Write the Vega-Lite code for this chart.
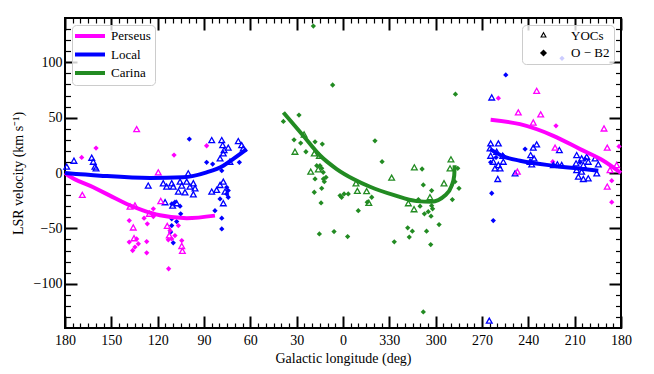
{
  "$schema": "https://vega.github.io/schema/vega-lite/v6.json",
  "width": 556,
  "height": 310,
  "autosize": {"type": "none"},
  "padding": {"left": 65, "top": 18, "right": 33, "bottom": 46},
  "config": {
    "font": "Liberation Serif",
    "view": {"stroke": "black", "strokeWidth": 2},
    "axis": {"grid": false, "domain": false, "labelFont": "Liberation Serif", "labelFontSize": 14, "labelColor": "black", "titleFont": "Liberation Serif", "titleFontSize": 14, "titleFontWeight": "normal", "titleColor": "black", "tickColor": "black", "labelFlush": false, "labelOverlap": false},
    "legend": {"labelFont": "Liberation Serif", "labelFontSize": 13, "labelColor": "black", "fillColor": "rgba(255,255,255,0.8)", "strokeColor": "#cccccc", "cornerRadius": 4, "strokeWidth": 1, "padding": 4, "offset": 7, "rowPadding": 3.7, "title": null}
  },
  "datasets": {
    "yocs": [
      {"arm":"Local","type":"YOCs","l":178.9,"v":5.1},{"arm":"Local","type":"YOCs","l":174.2,"v":10.5},{"arm":"Local","type":"YOCs","l":162.7,"v":13.2},{"arm":"Local","type":"YOCs","l":161.7,"v":9.6},{"arm":"Local","type":"YOCs","l":160.6,"v":5.1},{"arm":"Local","type":"YOCs","l":159.9,"v":3.6},{"arm":"Local","type":"YOCs","l":126.1,"v":-12.0},{"arm":"Local","type":"YOCs","l":116.4,"v":-9.9},{"arm":"Local","type":"YOCs","l":114.2,"v":-12.9},{"arm":"Local","type":"YOCs","l":110.9,"v":-9.9},{"arm":"Local","type":"YOCs","l":109.9,"v":-12.9},{"arm":"Local","type":"YOCs","l":105.5,"v":-8.4},{"arm":"Local","type":"YOCs","l":104.4,"v":-12.0},{"arm":"Local","type":"YOCs","l":101.2,"v":-8.4},{"arm":"Local","type":"YOCs","l":99.1,"v":-12.9},{"arm":"Local","type":"YOCs","l":96.9,"v":-9.9},{"arm":"Local","type":"YOCs","l":95.8,"v":-14.4},{"arm":"Local","type":"YOCs","l":96.9,"v":-19.8},{"arm":"Local","type":"YOCs","l":106.6,"v":-17.4},{"arm":"Local","type":"YOCs","l":102.3,"v":-18.0},{"arm":"Local","type":"YOCs","l":115.2,"v":-27.0},{"arm":"Local","type":"YOCs","l":110.3,"v":-30.0},{"arm":"Local","type":"YOCs","l":107.7,"v":-27.9},{"arm":"Local","type":"YOCs","l":100.2,"v":-0.9},{"arm":"Local","type":"YOCs","l":85.0,"v":-17.4},{"arm":"Local","type":"YOCs","l":81.8,"v":-15.9},{"arm":"Local","type":"YOCs","l":79.6,"v":-11.4},{"arm":"Local","type":"YOCs","l":77.5,"v":-8.4},{"arm":"Local","type":"YOCs","l":76.4,"v":-17.4},{"arm":"Local","type":"YOCs","l":77.5,"v":-27.9},{"arm":"Local","type":"YOCs","l":85.0,"v":29.1},{"arm":"Local","type":"YOCs","l":78.5,"v":29.1},{"arm":"Local","type":"YOCs","l":77.9,"v":24.6},{"arm":"Local","type":"YOCs","l":77.0,"v":20.1},{"arm":"Local","type":"YOCs","l":74.3,"v":22.3},{"arm":"Local","type":"YOCs","l":67.8,"v":28.2},{"arm":"Local","type":"YOCs","l":65.6,"v":24.6},{"arm":"Local","type":"YOCs","l":64.6,"v":21.6},{"arm":"Local","type":"YOCs","l":79.6,"v":12.6},{"arm":"Local","type":"YOCs","l":77.5,"v":17.1},{"arm":"Local","type":"YOCs","l":73.2,"v":9.6},
      {"arm":"Local","type":"YOCs","l":-96.3,"v":67.6},{"arm":"Local","type":"YOCs","l":-95.6,"v":26.1},{"arm":"Local","type":"YOCs","l":-100.6,"v":26.1},{"arm":"Local","type":"YOCs","l":-95.2,"v":21.6},{"arm":"Local","type":"YOCs","l":-99.5,"v":18.6},{"arm":"Local","type":"YOCs","l":-95.6,"v":15.0},{"arm":"Local","type":"YOCs","l":-103.4,"v":15.0},{"arm":"Local","type":"YOCs","l":-97.3,"v":9.6},{"arm":"Local","type":"YOCs","l":-100.6,"v":6.6},{"arm":"Local","type":"YOCs","l":-103.8,"v":9.6},{"arm":"Local","type":"YOCs","l":-98.4,"v":3.6},{"arm":"Local","type":"YOCs","l":-101.7,"v":3.6},{"arm":"Local","type":"YOCs","l":-100.2,"v":-6.0},{"arm":"Local","type":"YOCs","l":-111.4,"v":-0.9},{"arm":"Local","type":"YOCs","l":-123.2,"v":22.3},{"arm":"Local","type":"YOCs","l":-125.4,"v":25.2},{"arm":"Local","type":"YOCs","l":-121.5,"v":15.6},{"arm":"Local","type":"YOCs","l":-123.7,"v":12.6},{"arm":"Local","type":"YOCs","l":-121.1,"v":9.6},{"arm":"Local","type":"YOCs","l":-122.2,"v":7.2},{"arm":"Local","type":"YOCs","l":-140.1,"v":20.1},{"arm":"Local","type":"YOCs","l":-136.2,"v":6.6},{"arm":"Local","type":"YOCs","l":-138.8,"v":7.2},{"arm":"Local","type":"YOCs","l":-141.6,"v":6.6},{"arm":"Local","type":"YOCs","l":-151.3,"v":15.6},{"arm":"Local","type":"YOCs","l":-154.5,"v":12.6},{"arm":"Local","type":"YOCs","l":-157.8,"v":14.1},{"arm":"Local","type":"YOCs","l":-150.9,"v":8.1},{"arm":"Local","type":"YOCs","l":-155.6,"v":6.6},{"arm":"Local","type":"YOCs","l":-158.8,"v":9.6},{"arm":"Local","type":"YOCs","l":-163.2,"v":12.6},{"arm":"Local","type":"YOCs","l":-165.3,"v":7.2},{"arm":"Local","type":"YOCs","l":-151.3,"v":2.1},{"arm":"Local","type":"YOCs","l":-164.3,"v":-0.9},{"arm":"Local","type":"YOCs","l":-152.4,"v":-3.9},{"arm":"Local","type":"YOCs","l":-155.6,"v":-6.0},{"arm":"Local","type":"YOCs","l":-158.8,"v":-5.4},{"arm":"Local","type":"YOCs","l":-154.5,"v":0.6},{"arm":"Local","type":"YOCs","l":-94.7,"v":-134.0},
      {"arm":"Perseus","type":"YOCs","l":133.6,"v":39.0},{"arm":"Perseus","type":"YOCs","l":168.8,"v":-20.4},{"arm":"Perseus","type":"YOCs","l":119.6,"v":0.0},{"arm":"Perseus","type":"YOCs","l":118.0,"v":-25.9},{"arm":"Perseus","type":"YOCs","l":137.9,"v":-30.9},{"arm":"Perseus","type":"YOCs","l":134.7,"v":-30.0},{"arm":"Perseus","type":"YOCs","l":125.4,"v":-37.4},{"arm":"Perseus","type":"YOCs","l":135.8,"v":-49.8},{"arm":"Perseus","type":"YOCs","l":135.3,"v":-59.5},{"arm":"Perseus","type":"YOCs","l":113.8,"v":-48.4},{"arm":"Perseus","type":"YOCs","l":112.5,"v":-57.0},{"arm":"Perseus","type":"YOCs","l":104.4,"v":-66.5},{"arm":"Perseus","type":"YOCs","l":104.0,"v":-71.0},{"arm":"Perseus","type":"YOCs","l":-125.4,"v":73.6},{"arm":"Perseus","type":"YOCs","l":-113.5,"v":54.1},{"arm":"Perseus","type":"YOCs","l":-128.0,"v":52.3},{"arm":"Perseus","type":"YOCs","l":-123.2,"v":45.0},{"arm":"Perseus","type":"YOCs","l":-169.0,"v":39.6},{"arm":"Perseus","type":"YOCs","l":-171.1,"v":22.3},{"arm":"Perseus","type":"YOCs","l":-137.3,"v":22.3},{"arm":"Perseus","type":"YOCs","l":-112.9,"v":0.6},{"arm":"Perseus","type":"YOCs","l":-172.9,"v":2.1},{"arm":"Perseus","type":"YOCs","l":-177.2,"v":6.6},{"arm":"Perseus","type":"YOCs","l":-171.1,"v":-12.9},
      {"arm":"Carina","type":"YOCs","l":25.2,"v":34.2},{"arm":"Carina","type":"YOCs","l":31.1,"v":18.6},{"arm":"Carina","type":"YOCs","l":18.6,"v":17.1},{"arm":"Carina","type":"YOCs","l":15.3,"v":15.0},{"arm":"Carina","type":"YOCs","l":20.9,"v":0.6},{"arm":"Carina","type":"YOCs","l":16.0,"v":2.7},{"arm":"Carina","type":"YOCs","l":-8.4,"v":-9.9},{"arm":"Carina","type":"YOCs","l":-9.3,"v":-16.8},{"arm":"Carina","type":"YOCs","l":-15.3,"v":-17.0},{"arm":"Carina","type":"YOCs","l":-16.7,"v":-27.5},{"arm":"Carina","type":"YOCs","l":-31.5,"v":-4.8},{"arm":"Carina","type":"YOCs","l":-46.2,"v":4.5},{"arm":"Carina","type":"YOCs","l":-65.4,"v":-9.9},{"arm":"Carina","type":"YOCs","l":-69.9,"v":11.7},{"arm":"Carina","type":"YOCs","l":-69.3,"v":3.6},{"arm":"Carina","type":"YOCs","l":-42.3,"v":-27.9},{"arm":"Carina","type":"YOCs","l":-46.0,"v":-33.3},{"arm":"Carina","type":"YOCs","l":-56.3,"v":-22.5}
    ],
    "obs": [
      {"arm":"Local","type":"O − B2","l":99.5,"v":30.6},{"arm":"Local","type":"O − B2","l":88.3,"v":9.6},{"arm":"Local","type":"O − B2","l":84.4,"v":8.1},{"arm":"Local","type":"O − B2","l":67.1,"v":9.6},{"arm":"Local","type":"O − B2","l":78.5,"v":2.1},{"arm":"Local","type":"O − B2","l":75.3,"v":-12.9},{"arm":"Local","type":"O − B2","l":74.3,"v":-15.9},{"arm":"Local","type":"O − B2","l":75.3,"v":-18.9},{"arm":"Local","type":"O − B2","l":74.3,"v":-21.9},{"arm":"Local","type":"O − B2","l":79.6,"v":-23.4},{"arm":"Local","type":"O − B2","l":82.9,"v":-34.0},{"arm":"Local","type":"O − B2","l":78.5,"v":-40.8},{"arm":"Local","type":"O − B2","l":78.5,"v":-50.5},{"arm":"Local","type":"O − B2","l":110.9,"v":-27.9},{"arm":"Local","type":"O − B2","l":108.8,"v":-26.4},{"arm":"Local","type":"O − B2","l":105.5,"v":-30.0},{"arm":"Local","type":"O − B2","l":105.1,"v":-36.9},{"arm":"Local","type":"O − B2","l":110.9,"v":-41.4},{"arm":"Local","type":"O − B2","l":107.7,"v":-43.9},{"arm":"Local","type":"O − B2","l":110.9,"v":-47.5},{"arm":"Local","type":"O − B2","l":111.6,"v":-53.4},{"arm":"Local","type":"O − B2","l":109.9,"v":-63.1},{"arm":"Local","type":"O − B2","l":-105.4,"v":88.6},{"arm":"Local","type":"O − B2","l":-95.6,"v":9.6},{"arm":"Local","type":"O − B2","l":-99.1,"v":14.1},{"arm":"Local","type":"O − B2","l":-103.8,"v":15.6},{"arm":"Local","type":"O − B2","l":-96.3,"v":-18.3},{"arm":"Local","type":"O − B2","l":-97.3,"v":-43.0},{"arm":"Local","type":"O − B2","l":-117.9,"v":21.6},{"arm":"Local","type":"O − B2","l":-156.7,"v":12.6},{"arm":"Local","type":"O − B2","l":-153.5,"v":9.6},{"arm":"Local","type":"O − B2","l":-141.8,"v":103.6},
      {"arm":"Perseus","type":"O − B2","l":159.9,"v":22.5},{"arm":"Perseus","type":"O − B2","l":169.2,"v":14.1},{"arm":"Perseus","type":"O − B2","l":109.4,"v":16.2},{"arm":"Perseus","type":"O − B2","l":88.3,"v":24.6},{"arm":"Perseus","type":"O − B2","l":122.8,"v":-32.4},{"arm":"Perseus","type":"O − B2","l":128.8,"v":-40.8},{"arm":"Perseus","type":"O − B2","l":126.7,"v":-45.9},{"arm":"Perseus","type":"O − B2","l":138.4,"v":-43.0},{"arm":"Perseus","type":"O − B2","l":138.4,"v":-62.4},{"arm":"Perseus","type":"O − B2","l":133.6,"v":-59.5},{"arm":"Perseus","type":"O − B2","l":134.7,"v":-66.9},{"arm":"Perseus","type":"O − B2","l":136.2,"v":-70.0},{"arm":"Perseus","type":"O − B2","l":132.5,"v":-64.0},{"arm":"Perseus","type":"O − B2","l":127.1,"v":-61.9},{"arm":"Perseus","type":"O − B2","l":127.1,"v":-72.1},{"arm":"Perseus","type":"O − B2","l":122.8,"v":-39.4},{"arm":"Perseus","type":"O − B2","l":113.1,"v":-60.4},{"arm":"Perseus","type":"O − B2","l":110.9,"v":-59.5},{"arm":"Perseus","type":"O − B2","l":112.9,"v":-86.5},{"arm":"Perseus","type":"O − B2","l":106.6,"v":-47.5},{"arm":"Perseus","type":"O − B2","l":104.4,"v":-61.0},{"arm":"Perseus","type":"O − B2","l":108.8,"v":-56.5},{"arm":"Perseus","type":"O − B2","l":112.0,"v":-52.0},{"arm":"Perseus","type":"O − B2","l":-100.6,"v":67.6},{"arm":"Perseus","type":"O − B2","l":-137.9,"v":42.6},{"arm":"Perseus","type":"O − B2","l":-178.7,"v":24.0},{"arm":"Perseus","type":"O − B2","l":-135.8,"v":10.2},{"arm":"Perseus","type":"O − B2","l":-174.0,"v":-6.9},{"arm":"Perseus","type":"O − B2","l":-174.0,"v":-26.4},
      {"arm":"Carina","type":"O − B2","l":19.2,"v":132.7},{"arm":"Carina","type":"O − B2","l":6.7,"v":79.5},{"arm":"Carina","type":"O − B2","l":-72.8,"v":71.2},{"arm":"Carina","type":"O − B2","l":28.5,"v":52.3},{"arm":"Carina","type":"O − B2","l":38.6,"v":46.6},{"arm":"Carina","type":"O − B2","l":31.7,"v":30.0},{"arm":"Carina","type":"O − B2","l":18.1,"v":28.2},{"arm":"Carina","type":"O − B2","l":13.4,"v":26.1},{"arm":"Carina","type":"O − B2","l":27.4,"v":27.0},{"arm":"Carina","type":"O − B2","l":24.0,"v":19.2},{"arm":"Carina","type":"O − B2","l":17.0,"v":6.6},{"arm":"Carina","type":"O − B2","l":14.9,"v":6.6},{"arm":"Carina","type":"O − B2","l":12.7,"v":-5.4},{"arm":"Carina","type":"O − B2","l":11.0,"v":-3.9},{"arm":"Carina","type":"O − B2","l":12.1,"v":-7.8},{"arm":"Carina","type":"O − B2","l":13.8,"v":4.2},{"arm":"Carina","type":"O − B2","l":12.8,"v":0.6},{"arm":"Carina","type":"O − B2","l":18.1,"v":-5.4},{"arm":"Carina","type":"O − B2","l":13.8,"v":-13.8},{"arm":"Carina","type":"O − B2","l":18.6,"v":-17.4},{"arm":"Carina","type":"O − B2","l":14.2,"v":-27.0},{"arm":"Carina","type":"O − B2","l":1.9,"v":-20.4},{"arm":"Carina","type":"O − B2","l":-0.7,"v":-18.9},{"arm":"Carina","type":"O − B2","l":-3.4,"v":-18.9},{"arm":"Carina","type":"O − B2","l":0.9,"v":-21.9},{"arm":"Carina","type":"O − B2","l":-9.9,"v":-34.0},{"arm":"Carina","type":"O − B2","l":15.3,"v":-55.0},{"arm":"Carina","type":"O − B2","l":5.8,"v":-52.9},{"arm":"Carina","type":"O − B2","l":-3.0,"v":-57.4},{"arm":"Carina","type":"O − B2","l":-15.7,"v":-26.4},{"arm":"Carina","type":"O − B2","l":-20.7,"v":29.1},{"arm":"Carina","type":"O − B2","l":-25.3,"v":10.2},{"arm":"Carina","type":"O − B2","l":-51.2,"v":3.6},{"arm":"Carina","type":"O − B2","l":-52.0,"v":-10.8},{"arm":"Carina","type":"O − B2","l":-74.3,"v":4.2},{"arm":"Carina","type":"O − B2","l":-72.5,"v":-7.8},{"arm":"Carina","type":"O − B2","l":-75.1,"v":-13.8},{"arm":"Carina","type":"O − B2","l":-70.8,"v":-24.0},{"arm":"Carina","type":"O − B2","l":-18.6,"v":-21.9},{"arm":"Carina","type":"O − B2","l":-48.8,"v":-24.0},{"arm":"Carina","type":"O − B2","l":-49.9,"v":-30.0},{"arm":"Carina","type":"O − B2","l":-52.7,"v":-36.9},{"arm":"Carina","type":"O − B2","l":-55.2,"v":-34.9},{"arm":"Carina","type":"O − B2","l":-57.0,"v":-39.0},{"arm":"Carina","type":"O − B2","l":-57.4,"v":-15.9},{"arm":"Carina","type":"O − B2","l":-57.4,"v":-29.5},{"arm":"Carina","type":"O − B2","l":-58.0,"v":-32.4},{"arm":"Carina","type":"O − B2","l":-62.2,"v":-46.6},{"arm":"Carina","type":"O − B2","l":-41.9,"v":-49.5},{"arm":"Carina","type":"O − B2","l":-44.9,"v":-52.5},{"arm":"Carina","type":"O − B2","l":-42.9,"v":-57.9},{"arm":"Carina","type":"O − B2","l":-54.1,"v":-52.5},{"arm":"Carina","type":"O − B2","l":-33.2,"v":-62.2},{"arm":"Carina","type":"O − B2","l":-56.8,"v":-64.6},{"arm":"Carina","type":"O − B2","l":-52.0,"v":-125.5}
    ],
    "lines1": [
      {"arm":"Perseus","seg":"P1","i":0,"l":180,"v":0},{"arm":"Perseus","seg":"P1","i":1,"l":178.9,"v":-1.2},{"arm":"Perseus","seg":"P1","i":2,"l":161.7,"v":-12.9},{"arm":"Perseus","seg":"P1","i":3,"l":150.9,"v":-20.4},{"arm":"Perseus","seg":"P1","i":4,"l":140,"v":-28.0},{"arm":"Perseus","seg":"P1","i":5,"l":130,"v":-33.5},{"arm":"Perseus","seg":"P1","i":6,"l":118.5,"v":-38.2},{"arm":"Perseus","seg":"P1","i":7,"l":101.2,"v":-40.8},{"arm":"Perseus","seg":"P1","i":8,"l":82.9,"v":-38.5},
      {"arm":"Perseus","seg":"P2","i":0,"l":-95.6,"v":48.0},{"arm":"Perseus","seg":"P2","i":1,"l":-114.6,"v":44.1},{"arm":"Perseus","seg":"P2","i":2,"l":-136.2,"v":33.6},{"arm":"Perseus","seg":"P2","i":3,"l":-153.5,"v":21.6},{"arm":"Perseus","seg":"P2","i":4,"l":-168.6,"v":11.1},{"arm":"Perseus","seg":"P2","i":5,"l":-180,"v":0},
      {"arm":"Local","seg":"L1","i":0,"l":180,"v":0},{"arm":"Local","seg":"L1","i":1,"l":157.3,"v":-2.4},{"arm":"Local","seg":"L1","i":2,"l":125,"v":-4.5},{"arm":"Local","seg":"L1","i":3,"l":103.6,"v":-3.9},{"arm":"Local","seg":"L1","i":4,"l":88.3,"v":0.6},{"arm":"Local","seg":"L1","i":5,"l":77.5,"v":6.6},{"arm":"Local","seg":"L1","i":6,"l":71.2,"v":12.6},{"arm":"Local","seg":"L1","i":7,"l":62.3,"v":21.6},
      {"arm":"Local","seg":"L2","i":0,"l":-95.2,"v":21.6},{"arm":"Local","seg":"L2","i":1,"l":-103.8,"v":15.0},{"arm":"Local","seg":"L2","i":2,"l":-114.6,"v":11.1},{"arm":"Local","seg":"L2","i":3,"l":-136.2,"v":6.6},{"arm":"Local","seg":"L2","i":4,"l":-151.3,"v":4.2},{"arm":"Local","seg":"L2","i":5,"l":-165.3,"v":2.1}
    ],
    "lines2": [
      {"arm":"Carina","seg":"C1","i":0,"l":38.6,"v":54.7},{"arm":"Carina","seg":"C1","i":1,"l":25.7,"v":33.6},{"arm":"Carina","seg":"C1","i":2,"l":15,"v":16},{"arm":"Carina","seg":"C1","i":3,"l":4.1,"v":3.6},{"arm":"Carina","seg":"C1","i":4,"l":-6.7,"v":-5.4},{"arm":"Carina","seg":"C1","i":5,"l":-17.5,"v":-12.4},{"arm":"Carina","seg":"C1","i":6,"l":-32.6,"v":-19.8},{"arm":"Carina","seg":"C1","i":7,"l":-47.7,"v":-25.4},{"arm":"Carina","seg":"C1","i":8,"l":-57.4,"v":-25.9},{"arm":"Carina","seg":"C1","i":9,"l":-66.0,"v":-20.4},{"arm":"Carina","seg":"C1","i":10,"l":-70.4,"v":-11.4},{"arm":"Carina","seg":"C1","i":11,"l":-72.0,"v":-2.4},{"arm":"Carina","seg":"C1","i":12,"l":-72.3,"v":7.0}
    ]
  },
  "layer": [
    {
      "data": {"name": "obs"},
      "mark": {"type": "point", "filled": true, "opacity": 1, "strokeWidth": 0, "size": 28},
      "encoding": {
        "x": {"field": "l", "type": "quantitative", "scale": {"domain": [-180, 180], "reverse": true, "nice": false, "zero": false},
              "axis": {"orient": "bottom", "offset": -5, "values": [175,170,165,160,155,145,140,135,130,125,115,110,105,100,95,85,80,75,70,65,55,50,45,40,35,25,20,15,10,5,-5,-10,-15,-20,-25,-35,-40,-45,-50,-55,-65,-70,-75,-80,-85,-95,-100,-105,-110,-115,-125,-130,-135,-140,-145,-155,-160,-165,-170,-175], "tickSize": 5, "tickWidth": 1.2, "labels": false, "title": null}},
        "y": {"field": "v", "type": "quantitative", "scale": {"domain": [-140, 140], "nice": false, "zero": false},
              "axis": {"orient": "left", "offset": -5.5, "values": [-130,-120,-110,-90,-80,-70,-60,-40,-30,-20,-10,10,20,30,40,60,70,80,90,110,120,130], "tickSize": 5.5, "tickWidth": 1.2, "labels": false, "title": null}},
        "fill": {"field": "arm", "type": "nominal", "scale": {"domain": ["Local", "Perseus", "Carina"], "range": ["#0000ff", "#ff00ff", "#228b22"]}, "legend": null},
        "shape": {"field": "type", "type": "nominal", "scale": {"domain": ["YOCs", "O − B2"], "range": ["M0,-1.1L0.95,0.6L-0.95,0.6Z M0,-0.46L-0.418,0.288L0.418,0.288Z", "diamond"]},
                  "legend": {"orient": "top-right", "symbolFillColor": "black", "symbolStrokeColor": "black", "symbolStrokeWidth": 0, "symbolSize": 50, "symbolOffset": 11, "labelOffset": 21, "rowPadding": 3.5}}
      }
    },
    {
      "data": {"name": "yocs"},
      "mark": {"type": "point", "filled": true, "opacity": 1, "strokeWidth": 0, "size": 70},
      "encoding": {
        "x": {"field": "l", "type": "quantitative", "scale": {"domain": [-180, 180], "reverse": true, "nice": false, "zero": false},
              "axis": {"orient": "top", "offset": -12, "values": [180,150,120,90,60,30,0,-30,-60,-90,-120,-150,-180], "tickSize": 12, "tickWidth": 2, "labels": false, "title": null}},
        "y": {"field": "v", "type": "quantitative", "scale": {"domain": [-140, 140], "nice": false, "zero": false},
              "axis": {"orient": "right", "offset": -12, "values": [-100,-50,0,50,100], "tickSize": 12, "tickWidth": 2, "labels": false, "title": null}},
        "fill": {"field": "arm", "type": "nominal", "scale": {"domain": ["Local", "Perseus", "Carina"], "range": ["#0000ff", "#ff00ff", "#228b22"]}, "legend": null},
        "shape": {"field": "type", "type": "nominal", "scale": {"domain": ["YOCs", "O − B2"], "range": ["M0,-1.1L0.95,0.6L-0.95,0.6Z M0,-0.46L-0.418,0.288L0.418,0.288Z", "diamond"]},
                  "legend": {"orient": "top-right", "symbolFillColor": "black", "symbolStrokeColor": "black", "symbolStrokeWidth": 0, "symbolSize": 50, "symbolOffset": 11, "labelOffset": 21, "rowPadding": 3.5}}
      }
    },
    {
      "data": {"name": "lines1"},
      "mark": {"type": "line", "strokeWidth": 4, "strokeCap": "butt", "interpolate": "monotone"},
      "encoding": {
        "x": {"field": "l", "type": "quantitative", "scale": {"domain": [-180, 180], "reverse": true, "nice": false, "zero": false},
              "axis": {"orient": "bottom", "offset": -12, "values": [180,150,120,90,60,30,0,-30,-60,-90,-120,-150,-180], "tickSize": 12, "tickWidth": 2, "labelPadding": 5, "labelExpr": "datum.value < 0 ? datum.value + 360 : datum.value", "title": "Galactic longitude (deg)", "titlePadding": 4}},
        "y": {"field": "v", "type": "quantitative", "scale": {"domain": [-140, 140], "nice": false, "zero": false},
              "axis": {"orient": "left", "offset": -12, "values": [-100,-50,0,50,100], "tickSize": 12, "tickWidth": 2, "labelPadding": 3, "title": "LSR velocity (km s⁻¹)", "titlePadding": 8}},
        "stroke": {"field": "arm", "type": "nominal", "scale": {"domain": ["Perseus", "Local", "Carina"], "range": ["#ff00ff", "#0000ff", "#228b22"]},
                   "legend": {"orient": "top-left", "symbolType": "M-1,0L5,0", "symbolSize": 100, "symbolStrokeWidth": 4, "symbolOffset": -3, "labelOffset": 24, "rowPadding": 2.5}},
        "detail": {"field": "seg", "type": "nominal"},
        "order": {"field": "i", "type": "quantitative"}
      }
    },
    {
      "data": {"name": "lines2"},
      "mark": {"type": "line", "strokeWidth": 4, "strokeCap": "butt", "interpolate": "monotone"},
      "encoding": {
        "x": {"field": "l", "type": "quantitative", "scale": {"domain": [-180, 180], "reverse": true, "nice": false, "zero": false},
              "axis": {"orient": "top", "offset": -5, "values": [175,170,165,160,155,145,140,135,130,125,115,110,105,100,95,85,80,75,70,65,55,50,45,40,35,25,20,15,10,5,-5,-10,-15,-20,-25,-35,-40,-45,-50,-55,-65,-70,-75,-80,-85,-95,-100,-105,-110,-115,-125,-130,-135,-140,-145,-155,-160,-165,-170,-175], "tickSize": 5, "tickWidth": 1.2, "labels": false, "title": null}},
        "y": {"field": "v", "type": "quantitative", "scale": {"domain": [-140, 140], "nice": false, "zero": false},
              "axis": {"orient": "right", "offset": -5.5, "values": [-130,-120,-110,-90,-80,-70,-60,-40,-30,-20,-10,10,20,30,40,60,70,80,90,110,120,130], "tickSize": 5.5, "tickWidth": 1.2, "labels": false, "title": null}},
        "stroke": {"field": "arm", "type": "nominal", "scale": {"domain": ["Perseus", "Local", "Carina"], "range": ["#ff00ff", "#0000ff", "#228b22"]},
                   "legend": {"orient": "top-left", "symbolType": "M-1,0L5,0", "symbolSize": 100, "symbolStrokeWidth": 4, "symbolOffset": -3, "labelOffset": 24, "rowPadding": 2.5}},
        "detail": {"field": "seg", "type": "nominal"},
        "order": {"field": "i", "type": "quantitative"}
      }
    }
  ],
  "resolve": {"axis": {"x": "independent", "y": "independent"}}
}
